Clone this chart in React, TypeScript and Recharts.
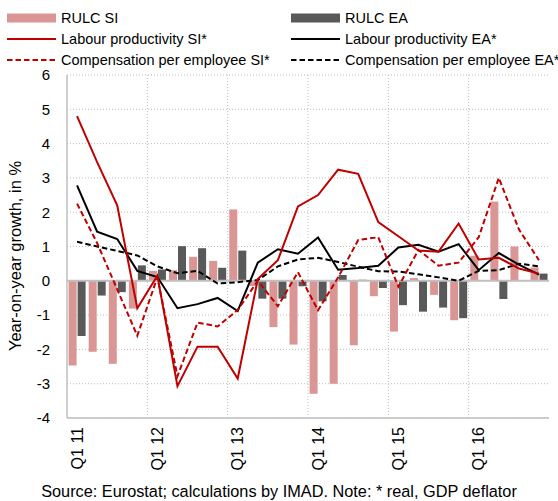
import React from "react";
import {
  ComposedChart,
  Bar,
  Line,
  XAxis,
  YAxis,
  CartesianGrid,
  ReferenceLine,
} from "recharts";

const quarters = [
  "Q1 11", "Q2 11", "Q3 11", "Q4 11",
  "Q1 12", "Q2 12", "Q3 12", "Q4 12",
  "Q1 13", "Q2 13", "Q3 13", "Q4 13",
  "Q1 14", "Q2 14", "Q3 14", "Q4 14",
  "Q1 15", "Q2 15", "Q3 15", "Q4 15",
  "Q1 16", "Q2 16", "Q3 16", "Q4 16",
];

const rulcSI = [
  -2.47, -2.07, -2.42, -0.81, 0.29, 0.31, 0.7, 0.58,
  2.08, -0.15, -1.35, -1.86, -3.29, -3.0, -1.88, -0.45,
  -1.48, 0.08, -0.41, -1.15, 0.73, 2.31, 1.0, 0.39,
];
const rulcEA = [
  -1.61, -0.43, -0.33, 0.45, 0.33, 1.01, 0.95, 0.38,
  0.88, -0.52, -0.52, -0.16, -0.6, 0.17, 0.03, -0.21,
  -0.71, -0.9, -0.78, -1.09, 0.02, -0.53, 0.01, 0.21,
];
const prodSI = [
  4.8, 3.46, 2.2, -0.8, 0.15, -3.07, -1.92, -1.92,
  -2.85, 0.05, 0.6, 2.17, 2.5, 3.24, 3.12, 1.71,
  1.3, 0.88, 0.85, 1.67, 0.62, 0.67, 0.36, 0.21,
];
const prodEA = [
  2.78, 1.43, 1.22, 0.29, 0.11, -0.8, -0.68, -0.5,
  -0.88, 0.53, 0.92, 0.79, 1.26, 0.32, 0.37, 0.44,
  0.97, 1.05, 0.85, 1.07, 0.31, 0.81, 0.47, 0.18,
];
const compSI = [
  2.25, 1.1, -0.25, -1.6, 0.1, -2.78, -1.22, -1.33,
  -0.85, 0.0, -0.74, 0.25, -0.86, 0.1, 1.19, 1.27,
  -0.17, 0.9, 0.44, 0.53, 1.27, 3.0, 1.5, 0.6,
];
const compEA = [
  1.14, 1.0, 0.87, 0.74, 0.42, 0.22, 0.29, -0.08,
  -0.04, 0.02, 0.42, 0.62, 0.67, 0.55, 0.41, 0.28,
  0.27, 0.19, 0.1, 0.0, 0.29, 0.31, 0.5, 0.42,
];

const yTicks = [-4, -3, -2, -1, 0, 1, 2, 3, 4, 5, 6];

const PINK = "#d99694";
const GREY = "#595959";
const RED = "#c00000";
const GRID = "#bfbfbf";
const FONT = "'Liberation Sans', Arial, sans-serif";

const data = quarters.map((q, i) => ({
  q,
  rulcSI: rulcSI[i],
  rulcEA: rulcEA[i],
  prodSI: prodSI[i],
  prodEA: prodEA[i],
  compSI: compSI[i],
  compEA: compEA[i],
}));

const legendItems = [
  { name: "RULC SI", kind: "bar", color: PINK },
  { name: "RULC EA", kind: "bar", color: GREY },
  { name: "Labour productivity SI*", kind: "line", color: RED },
  { name: "Labour productivity EA*", kind: "line", color: "#000" },
  { name: "Compensation per employee SI*", kind: "dash", color: RED },
  { name: "Compensation per employee EA*", kind: "dash", color: "#000" },
];

function QuarterTick({ x, y, payload }: any) {
  // only the first quarter of each year is labelled
  if (!String(payload.value).startsWith("Q1")) return null;
  return (
    <text
      transform={`translate(${x},${y}) rotate(-90)`}
      textAnchor="end"
      dy="0.35em"
      fontSize={16}
      fontFamily={FONT}
      fill="#000"
    >
      {payload.value}
    </text>
  );
}

function Swatch({ kind, color }: { kind: string; color: string }) {
  return (
    <svg width={49} height={12} style={{ display: "block" }}>
      {kind === "bar" ? (
        <rect x={0} y={1.5} width={49} height={9} fill={color} />
      ) : (
        <line
          x1={0}
          x2={49}
          y1={6}
          y2={6}
          stroke={color}
          strokeWidth={2}
          strokeDasharray={kind === "dash" ? "5.5 3" : undefined}
        />
      )}
    </svg>
  );
}

function ChartLegend() {
  return (
    <>
      {legendItems.map((item, i) => (
        <div
          key={item.name}
          style={{
            position: "absolute",
            left: i % 2 === 0 ? 7 : 291,
            top: 8 + Math.floor(i / 2) * 21,
            height: 20,
            display: "flex",
            alignItems: "center",
            gap: 5,
            fontSize: 14.5,
            fontFamily: FONT,
            whiteSpace: "nowrap",
          }}
        >
          <Swatch kind={item.kind} color={item.color} />
          <span>{item.name}</span>
        </div>
      ))}
    </>
  );
}

export default function App() {
  return (
    <div
      style={{
        position: "absolute",
        left: 0,
        top: 0,
        width: 558,
        height: 501,
        background: "#fff",
        overflow: "hidden",
        fontFamily: FONT,
      }}
    >
      <ChartLegend />
      <ComposedChart
        width={558}
        height={501}
        data={data}
        margin={{ top: 75, right: 9, bottom: 33, left: 27 }}
        barCategoryGap="8%"
        barGap={1}
      >
        <CartesianGrid
          stroke={GRID}
          strokeDasharray="1 2"
          verticalCoordinatesGenerator={({ offset }: any) => {
            const left = offset?.left ?? 67;
            const w = offset?.width ?? 482;
            return [4, 8, 12, 16, 20].map((k) => left + (w * k) / quarters.length);
          }}
        />
        <XAxis
          dataKey="q"
          interval={0}
          height={50}
          tickLine={false}
          tickSize={0}
          tickMargin={9}
          axisLine={{ stroke: GRID, strokeWidth: 1.5 }}
          tick={<QuarterTick />}
        />
        <XAxis
          xAxisId="top"
          dataKey="q"
          orientation="top"
          height={0}
          tick={false}
          tickLine={false}
          axisLine={{ stroke: GRID, strokeWidth: 1.5 }}
        />
        <YAxis
          domain={[-4, 6]}
          ticks={yTicks}
          interval={0}
          width={40}
          tickLine={false}
          tickSize={0}
          tickMargin={17}
          axisLine={{ stroke: GRID, strokeWidth: 1.5 }}
          tick={{ fill: "#000", fontSize: 15, fontFamily: FONT }}
        />
        <YAxis
          yAxisId="right"
          orientation="right"
          domain={[-4, 6]}
          width={0}
          tick={false}
          tickLine={false}
          axisLine={{ stroke: GRID, strokeWidth: 1.5 }}
        />
        <ReferenceLine y={0} stroke={GRID} strokeWidth={2} />
        <Bar dataKey="rulcSI" name="RULC SI" fill={PINK} isAnimationActive={false} />
        <Bar dataKey="rulcEA" name="RULC EA" fill={GREY} isAnimationActive={false} />
        <Line
          type="linear"
          dataKey="compEA"
          name="Compensation per employee EA*"
          stroke="#000"
          strokeWidth={2}
          strokeDasharray="5.5 3"
          dot={false}
          isAnimationActive={false}
        />
        <Line
          type="linear"
          dataKey="prodEA"
          name="Labour productivity EA*"
          stroke="#000"
          strokeWidth={2}
          dot={false}
          isAnimationActive={false}
        />
        <Line
          type="linear"
          dataKey="compSI"
          name="Compensation per employee SI*"
          stroke={RED}
          strokeWidth={2}
          strokeDasharray="5.5 3"
          dot={false}
          isAnimationActive={false}
        />
        <Line
          type="linear"
          dataKey="prodSI"
          name="Labour productivity SI*"
          stroke={RED}
          strokeWidth={2}
          dot={false}
          isAnimationActive={false}
        />
      </ComposedChart>
      <div
        style={{
          position: "absolute",
          left: 15,
          top: 256,
          transform: "translate(-50%, -50%) rotate(-90deg)",
          fontSize: 16.5,
          whiteSpace: "nowrap",
        }}
      >
        Year-on-year growth, in %
      </div>
      <div
        style={{
          position: "absolute",
          left: 0,
          width: 558,
          top: 482,
          textAlign: "center",
          fontSize: 16.3,
          whiteSpace: "nowrap",
        }}
      >
        Source: Eurostat; calculations by IMAD. Note: * real, GDP deflator
      </div>
    </div>
  );
}
